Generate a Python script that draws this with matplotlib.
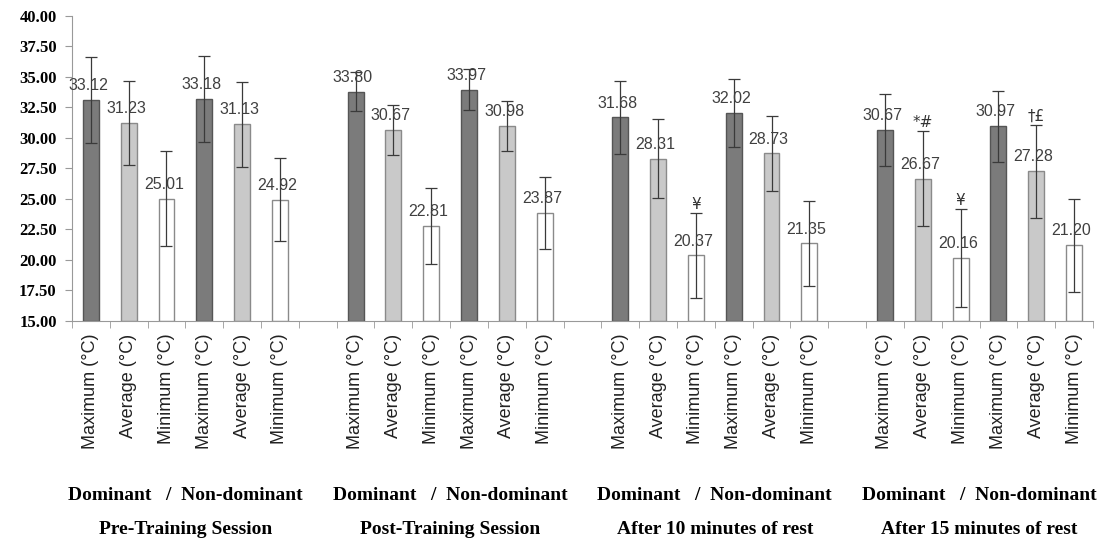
import matplotlib
matplotlib.use('Agg')
import matplotlib.pyplot as plt
import numpy as np

sessions = ['Pre-Training Session', 'Post-Training Session',
            'After 10 minutes of rest', 'After 15 minutes of rest']
bar_labels = ['Maximum (°C)', 'Average (°C)', 'Minimum (°C)',
              'Maximum (°C)', 'Average (°C)', 'Minimum (°C)']

# dominant max/avg/min, non-dominant max/avg/min per session
means = [
    [33.12, 31.23, 25.01, 33.18, 31.13, 24.92],
    [33.80, 30.67, 22.81, 33.97, 30.98, 23.87],
    [31.68, 28.31, 20.37, 32.02, 28.73, 21.35],
    [30.67, 26.67, 20.16, 30.97, 27.28, 21.20],
]
sds = [
    [3.55, 3.45, 3.90, 3.50, 3.50, 3.40],
    [1.60, 2.05, 3.10, 1.65, 2.05, 2.95],
    [3.00, 3.25, 3.45, 2.80, 3.10, 3.45],
    [2.95, 3.90, 4.00, 2.90, 3.80, 3.80],
]
# significance marks (session, bar) -> text
marks = {(2, 2): '¥', (3, 1): '*#', (3, 2): '¥', (3, 4): '†£'}

face = ['#7b7b7b', '#c9c9c9', '#ffffff'] * 2
edge = ['#555555', '#8a8a8a', '#8a8a8a'] * 2

fig = plt.figure(figsize=(11.14, 5.44), dpi=100)
ax = fig.add_axes([0.0646, 0.41, 0.9165, 0.5606])

xs, labels = [], []
for g in range(4):
    for j in range(6):
        x = g * 7 + j
        m = means[g][j]
        s = sds[g][j]
        ax.bar(x, m - 15, bottom=15, width=0.42, color=face[j],
               edgecolor=edge[j], linewidth=1.0, zorder=2)
        ax.errorbar(x, m, yerr=s, fmt='none', ecolor='#3a3a3a',
                    elinewidth=0.9, capsize=4, capthick=0.9, zorder=3)
        ax.annotate('{:.2f}'.format(m), (x, m), xytext=(-2, 5),
                    textcoords='offset points', ha='center', va='bottom',
                    fontsize=11.5, color='#404040', family='Liberation Sans',
                    zorder=4)
        if (g, j) in marks:
            ax.annotate(marks[(g, j)], (x, m + s), xytext=(0, 1),
                        textcoords='offset points', ha='center', va='bottom',
                        fontsize=11, color='#333333', family='DejaVu Sans',
                        zorder=4)
        xs.append(x)
        labels.append(bar_labels[j])

ax.set_xlim(-0.5, 26.5)
ax.set_ylim(15, 40)
ax.set_yticks(np.arange(15, 40.01, 2.5))
ax.set_yticklabels(['{:.2f}'.format(v) for v in np.arange(15, 40.01, 2.5)],
                   family='Liberation Serif', fontweight='bold', fontsize=12)
ax.set_xticks(xs)
ax.set_xticklabels(labels, rotation=90, family='Liberation Sans',
                   fontsize=13, color='#222222')
ax.set_xticks(np.arange(-0.5, 26.6, 1), minor=True)
ax.tick_params(axis='x', which='major', length=0, pad=9)
ax.tick_params(axis='x', which='minor', length=5, color='#999999', direction='out')
ax.tick_params(axis='y', length=5, color='#999999', pad=6, direction='out')

for side in ['top', 'right']:
    ax.spines[side].set_visible(False)
for side in ['left', 'bottom']:
    ax.spines[side].set_color('#999999')

for g in range(4):
    cx = g * 7 + 2.5
    xf = ax.transData.transform((cx, 15))[0] / fig.bbox.width
    fig.text(xf, 0.09, 'Dominant   /  Non-dominant', ha='center', va='center',
             family='Liberation Serif', fontweight='bold', fontsize=14)
    fig.text(xf, 0.026, sessions[g], ha='center', va='center',
             family='Liberation Serif', fontweight='bold', fontsize=14)

fig.savefig('out.png', dpi=100)
